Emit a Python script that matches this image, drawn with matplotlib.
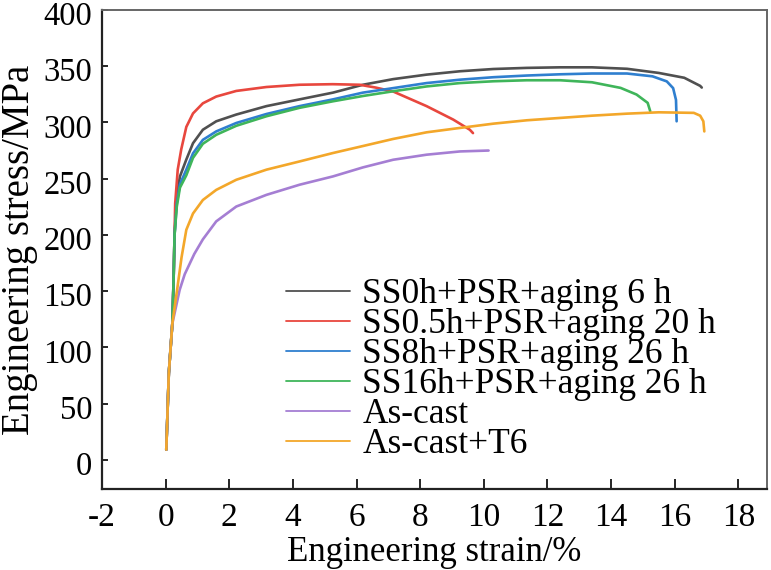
import numpy as np
import matplotlib
matplotlib.use('Agg')
import matplotlib.pyplot as plt
import matplotlib.transforms as mtransforms

plt.rcParams['font.family'] = ['Liberation Serif', 'DejaVu Serif']
plt.rcParams['axes.unicode_minus'] = False

# engineering strain (%) / stress (MPa)
ss0_x = [0.02, 0.1, 0.21, 0.25, 0.28, 0.35, 0.45, 0.65, 0.86, 1.17, 1.59, 2.22, 3.17,
         4.21, 5.26, 6.2, 7.15, 8.2, 9.25, 10.3, 11.35, 12.4, 13.4, 14.5, 15.5, 16.3,
         16.8, 16.85]
ss0_y = [9, 77, 121, 160, 200, 235, 252, 267, 281.5, 293.5, 301, 307, 314.5,
         320.5, 326.5, 333.5, 338.5, 342.5, 345.5, 347.5, 348.5, 349, 349, 347.7, 344,
         339.7, 332.5, 331]

ss05_x = [0.02, 0.1, 0.21, 0.25, 0.28, 0.30, 0.38, 0.49, 0.65, 0.86, 1.17, 1.59, 2.22,
          3.17, 4.21, 5.25, 6.1, 6.6, 7.15, 8.2, 9.04, 9.56, 9.66]
ss05_y = [9, 77, 121, 160, 200, 228, 258, 276, 296, 308, 317, 323, 328,
          331.5, 333.5, 334, 333.5, 331, 327.5, 314.5, 302.5, 293.5, 290.5]

ss8_x = [0.02, 0.1, 0.21, 0.25, 0.28, 0.35, 0.45, 0.65, 0.86, 1.17, 1.59, 2.22, 3.17,
         4.21, 5.26, 6.2, 7.15, 8.2, 9.25, 10.3, 11.35, 12.4, 13.4, 14.5, 15.3, 15.75,
         15.95, 16.04, 16.06]
ss8_y = [9, 77, 121, 160, 200, 228, 245, 258, 272.5, 284.5, 292, 299.5, 307.5,
         314.5, 320.5, 326.5, 330.5, 335, 338, 340.2, 341.7, 342.8, 343.5, 343.5, 341,
         336.5, 330.5, 320, 301]

ss16_x = [0.02, 0.1, 0.21, 0.25, 0.28, 0.35, 0.45, 0.65, 0.86, 1.17, 1.59, 2.22, 3.17,
          4.21, 5.26, 6.2, 7.15, 8.2, 9.25, 10.3, 11.35, 12.4, 13.4, 14.3, 14.8, 15.15,
          15.23]
ss16_y = [9, 77, 121, 160, 200, 225, 242, 253, 268.5, 281, 289, 297, 305.5,
          313, 318.8, 323.5, 327.7, 332, 335, 336.6, 337.5, 337.5, 335.7, 330.7, 324.8,
          317.4, 310]

cast_x = [0.02, 0.1, 0.21, 0.44, 0.6, 0.9, 1.17, 1.59, 2.22, 3.17, 4.21, 5.26, 6.2,
          7.15, 8.2, 9.25, 10.15]
cast_y = [9, 77, 121, 151, 165, 183, 196, 212, 225.2, 235.6, 244.6, 252, 260,
          266.8, 271.3, 274.2, 275]

t6_x = [0.02, 0.1, 0.21, 0.36, 0.5, 0.65, 0.86, 1.17, 1.59, 2.22, 3.17, 4.21, 5.26,
        6.2, 7.15, 8.2, 9.25, 10.3, 11.35, 12.4, 13.4, 14.5, 15.5, 16.6, 16.8, 16.9,
        16.93]
t6_y = [9, 77, 121, 151, 180, 204.5, 219, 231, 240, 249, 258, 265.3, 272.8,
        279, 285.3, 291.2, 295.1, 298.9, 301.9, 304, 306, 307.8, 309, 308.5, 306, 301,
        292]

labels = ['SS0h+PSR+aging 6 h', 'SS0.5h+PSR+aging 20 h', 'SS8h+PSR+aging 26 h',
          'SS16h+PSR+aging 26 h', 'As-cast', 'As-cast+T6']
colors = ['#505050', '#e8473e', '#2f7fcf', '#3fb55a', '#a57ed3', '#f3a72a']

x_ticks = list(range(-2, 19, 2))
y_ticks = list(range(0, 401, 50))

fig = plt.figure(figsize=(7.71, 5.70), dpi=100)
ax = fig.add_axes([0.1323, 0.1421, 0.8625, 0.8404])

series = [(ss0_x, ss0_y), (ss05_x, ss05_y), (ss8_x, ss8_y),
          (ss16_x, ss16_y), (cast_x, cast_y), (t6_x, t6_y)]
for (xs, ys), lab, c in zip(series, labels, colors):
    ax.plot(xs, ys, color=c, lw=1.9, label=lab, solid_capstyle='round')

ax.set_xlim(-2, 18.9)
ax.set_ylim(-26, 400)
ax.set_xticks(x_ticks)
ax.set_yticks(y_ticks)
ax.tick_params(axis='x', direction='in', length=7, width=1.2, labelsize=24, pad=10)
ax.tick_params(axis='y', direction='in', length=4, width=1.2, labelsize=23.5, pad=7)

# nudge y tick labels a bit down, like the reference
shift = mtransforms.ScaledTranslation(0, -0.035, fig.dpi_scale_trans)
for lbl in ax.get_yticklabels():
    lbl.set_transform(lbl.get_transform() + shift)

for s in ['left', 'bottom']:
    ax.spines[s].set_linewidth(1.6)
    ax.spines[s].set_color('#222222')
for s in ['top', 'right']:
    ax.spines[s].set_linewidth(1.4)
    ax.spines[s].set_color('#666666')

ax.set_xlabel('Engineering strain/%', fontsize=25, labelpad=2)
ax.set_ylabel('Engineering stress/MPa', fontsize=28, labelpad=4)

leg = ax.legend(loc='upper left', bbox_to_anchor=(0.277, 0.44), frameon=False,
                fontsize=25.5, handlelength=1.8, handletextpad=0.35,
                labelspacing=-0.085, borderpad=0, borderaxespad=0)
for ln in leg.get_lines():
    ln.set_linewidth(1.3)

fig.savefig('out.png', dpi=100)
